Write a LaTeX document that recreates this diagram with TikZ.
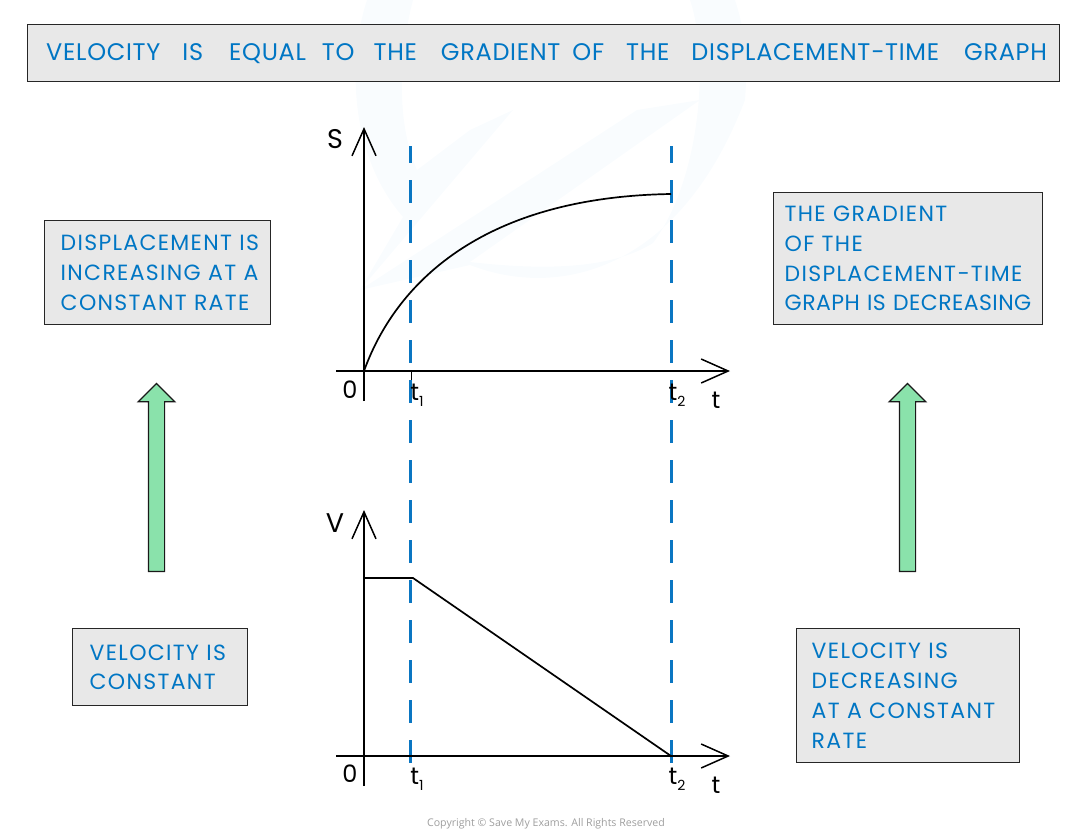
\documentclass[tikz,border=0pt]{standalone}
\usepackage{fontspec}
\setmainfont{Poppins}[WordSpace=2.6,LetterSpace=6]
\newfontfamily\titlefont{Poppins}[LetterSpace=3]
\newfontfamily\plainfont{Poppins}
\newfontfamily\tightfont{Poppins}[LetterSpace=2,WordSpace=1.3]
\newfontfamily\copyfont{Open Sans}
\usetikzlibrary{arrows.meta,shapes.arrows,calc}
\definecolor{inkblue}{HTML}{0076C4}
\definecolor{dashblue}{HTML}{0A76C2}
\definecolor{boxgrey}{HTML}{E8E8E8}
\definecolor{arrowgreen}{HTML}{8AE2AB}
\definecolor{wmark}{HTML}{F9FCFE}
\newcommand{\subs}[1]{\raisebox{-6pt}{\fontsize{14}{14}\selectfont #1}}
\tikzset{
  infobox/.style={draw=black!85,line width=1.4pt,fill=boxgrey,text=inkblue,rectangle,align=left,inner ysep=0pt,
     font=\fontsize{22}{29.7}\selectfont},
  uparrow/.style={draw=black!90,line width=1.2pt,fill=arrowgreen,shape=single arrow,rotate=90,
     single arrow head extend=10.25pt,single arrow head indent=0pt,single arrow tip angle=90,
     inner xsep=0pt,inner ysep=7.5pt,minimum height=188pt,minimum width=35.5pt},
  axisline/.style={draw=black,line width=1.5pt},
  axisarrow/.style={axisline,-{Straight Barb[length=27pt,width=24pt,line width=1.5pt]}},
  curveline/.style={draw=black,line width=1.7pt},
  guide/.style={draw=dashblue,line width=3pt,dash pattern=on 23pt off 17pt,dash phase=6pt},
  axlabel/.style={text=black,inner sep=0pt,font=\plainfont\fontsize{27}{28}\selectfont},
  ticklabel/.style={text=black,inner sep=0pt,font=\plainfont\fontsize{24}{26}\selectfont},
}
\begin{document}
\begin{tikzpicture}[x=1pt,y=-1pt]
\useasboundingbox (0,0) rectangle (1084,838);
% watermark
\fill[wmark] (367,0) .. controls (350,50) and (345,150) .. (403,217)
  -- (360,290) -- (470,265) .. controls (560,300) and (680,270) .. (745,100)
  .. controls (748,60) and (745,30) .. (735,0) -- (690,0)
  .. controls (710,60) and (700,180) .. (653,243)
  .. controls (610,270) and (540,270) .. (470,262)
  -- (700,100) -- (637,110) -- (360,290) -- (513,110) -- (470,130) -- (417,170)
  .. controls (395,120) and (400,50) .. (413,0) -- cycle;
% top box
\node[infobox,font=\titlefont\fontsize{24}{29.7}\selectfont,minimum width=1032pt,minimum height=57pt,text width=1013pt,inner xsep=9.5pt,anchor=north west] (title) at (27,24)
  {\hspace{9pt}VELOCITY \hspace{14pt}IS \hspace{18pt}EQUAL \hspace{8pt}TO \hspace{11pt}THE \hspace{16pt}GRADIENT \hspace{4pt}OF \hspace{14pt}THE \hspace{14pt}DISPLACEMENT−TIME \hspace{17pt}GRAPH};
% info boxes
\node[infobox,minimum width=226pt,minimum height=104pt,text width=204pt,inner xsep=11pt,anchor=north west,xshift=0pt] (dispbox) at (44,220)
  {\hspace{5pt}DISPLACEMENT IS\\\hspace{5pt}INCREASING AT A\\\hspace{5pt}CONSTANT RATE};
\node[infobox,minimum width=269pt,minimum height=132pt,text width=257pt,inner xsep=6pt,anchor=north west] (gradbox) at (773,192)
  {\hspace{5pt}THE GRADIENT\\\hspace{5pt}OF THE\\\hspace{5pt}DISPLACEMENT−TIME\\\hspace{5pt}\mbox{\tightfont GRAPH IS DECREASING}};
\node[infobox,minimum width=175pt,minimum height=77pt,text width=155pt,inner xsep=10pt,anchor=north west] (velconst) at (72,628)
  {\hspace{7pt}VELOCITY IS\\\hspace{7pt}CONSTANT};
\node[infobox,minimum width=223pt,minimum height=134pt,text width=203pt,inner xsep=10pt,anchor=north west] (veldec) at (796,628)
  {\hspace{5pt}VELOCITY IS\\\hspace{5pt}DECREASING\\\hspace{5pt}AT A CONSTANT\\\hspace{5pt}RATE};
% block arrows
\node[uparrow] (arrowL) at (156.5,481.5) {};
\node[uparrow] (arrowR) at (907.5,481.5) {};
% coordinates
\coordinate (sOrigin) at (364,371);
\coordinate (sTop) at (364,127);
\coordinate (sBottom) at (364,401);
\coordinate (sLeft) at (336,371);
\coordinate (sRight) at (730,371);
\coordinate (vOrigin) at (364,756);
\coordinate (vTop) at (364,510);
\coordinate (vBottom) at (364,786);
\coordinate (vLeft) at (336,756);
\coordinate (vRight) at (730,756);
\coordinate (g1a) at (410.5,146);
\coordinate (g1b) at (410.5,763);
\coordinate (g2a) at (671,146);
\coordinate (g2b) at (671,763);
\coordinate (plateau) at (413,578);
\coordinate (plateauStart) at (364,578);
\coordinate (vEnd) at (671,756);
\coordinate (curveEnd) at (671,194);
\coordinate (tick1a) at (411.5,371);
\coordinate (tick1b) at (411.5,380);
% guides
\draw[guide] (g1a) -- (g1b);
\draw[guide] (g2a) -- (g2b);
% displacement graph
\draw[axisarrow] (sBottom) -- (sTop);
\draw[axisarrow] (sLeft) -- (sRight);
\draw[curveline] (sOrigin) .. controls (395,285) and (480,197) .. (curveEnd);
\draw[curveline] (tick1a) -- (tick1b);
% velocity graph
\draw[axisarrow] (vBottom) -- (vTop);
\draw[axisarrow] (vLeft) -- (vRight);
\draw[curveline] (plateauStart) -- (plateau) -- (vEnd);
% labels
\node[axlabel] (labS) at (335,139) {S};
\node[axlabel] (labV) at (335,523) {V};
\node[ticklabel] (o1) at (350,390) {0};
\node[ticklabel] (o2) at (350,774) {0};
\node[ticklabel,anchor=base] (t1a) at (417,400) {t\subs{1}};
\node[ticklabel,anchor=base] (t2a) at (677,400) {t\subs{2}};
\node[ticklabel,anchor=base] (ta) at (716,408) {t};
\node[ticklabel,anchor=base] (t1b) at (417,784) {t\subs{1}};
\node[ticklabel,anchor=base] (t2b) at (677,784) {t\subs{2}};
\node[ticklabel,anchor=base] (tb) at (716,793) {t};
\node[text=black!38,inner sep=0pt,font=\copyfont\fontsize{10.6}{12}\selectfont] (copy) at (546,824) {Copyright © Save My Exams. All Rights Reserved};
\end{tikzpicture}
\end{document}
